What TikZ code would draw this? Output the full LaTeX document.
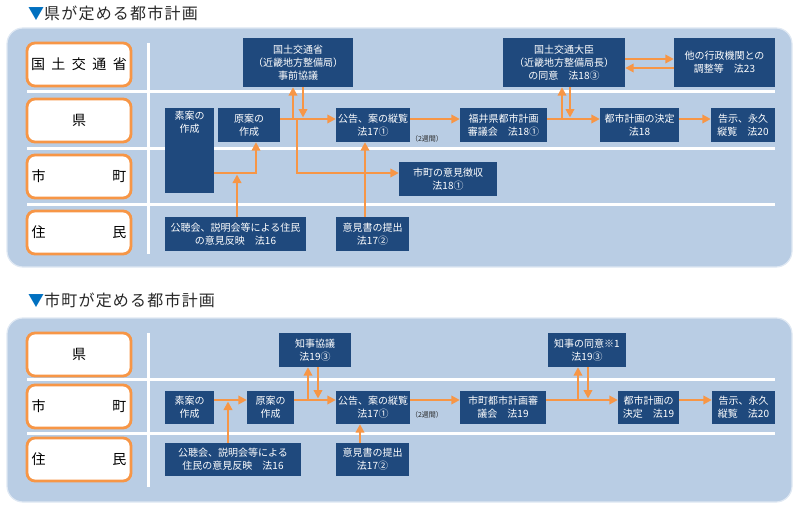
\documentclass[tikz,border=0pt]{standalone}
\usepackage{fontspec}
\setmainfont{Noto Sans CJK JP}
\usetikzlibrary{arrows.meta}
\definecolor{PanelClr}{RGB}{185,205,228}
\definecolor{BoxClr}{RGB}{31,73,125}
\definecolor{FlowClr}{RGB}{247,150,70}
\definecolor{MarkClr}{RGB}{0,112,192}
\definecolor{TitleClr}{RGB}{40,40,40}

\begin{document}
\begin{tikzpicture}[x=1pt,y=-1pt,
  panel/.style={fill=PanelClr,draw=white!55!PanelClr,line width=1.2pt,rounded corners=16pt},
  lane/.style={draw=FlowClr,fill=white,line width=2.8pt,rounded corners=8pt,
    minimum width=104pt,minimum height=43pt,inner sep=0pt,font=\fontsize{14}{16}\selectfont},
  sep/.style={white,line width=3pt},
  proc/.style={fill=BoxClr,text=white,align=center,inner sep=1pt,font=\fontsize{10}{13}\selectfont},
  flow/.style={FlowClr,line width=2.8pt,-{Triangle[length=8.5pt,width=8.5pt]}},
  title/.style={anchor=west,inner sep=0pt,text=TitleClr,font=\fontsize{16}{18}\selectfont\addfontfeature{LetterSpace=7.5}},
  weeks/.style={text=TitleClr,inner sep=0pt,font=\fontsize{7}{8}\selectfont}]
\useasboundingbox (0,0) rectangle (801,511);

% ---- 県が定める都市計画
\node[title] (ttl1) at (28,13) {\textcolor{MarkClr}{▼}県が定める都市計画};
\draw[panel] (7,28) rectangle (792,267);

\draw[sep] (27,92) -- (775,92);
\draw[sep] (27,148) -- (775,148);
\draw[sep] (27,204) -- (775,204);
\draw[sep] (148,43) -- (148,254);

\node[lane] (lnA1) at (79,64.5) {\makebox[96pt]{国\hfill 土\hfill 交\hfill 通\hfill 省}};
\node[lane] (lnB1) at (79,120.5) {県};
\node[lane] (lnC1) at (79,176.5) {\makebox[95pt]{市\hfill 町}};
\node[lane] (lnD1) at (79,232.5) {\makebox[95pt]{住\hfill 民}};

\node[proc,minimum width=110pt,minimum height=49pt] (jizen) at (298,62.5) {国土交通省\\（近畿地方整備局）\\事前協議};
\node[proc,minimum width=122pt,minimum height=49pt] (doui1) at (564,62.5) {国土交通大臣\\（近畿地方整備局長）\\の同意　法18③};
\node[proc,minimum width=101pt,minimum height=49pt] (tagyosei) at (724.5,62.5) {他の行政機関との\\調整等　法23};

\node[proc,minimum width=49pt,minimum height=85pt,
  label={[anchor=north,text=white,align=center,inner sep=3pt,font=\fontsize{10}{13}\selectfont]north:{素案の\\作成}}]
  (soan1) at (189.5,150.5) {};
\node[proc,minimum width=62pt,minimum height=34pt] (genan1) at (249,125) {原案の\\作成};
\node[proc,minimum width=74pt,minimum height=34pt] (kokoku1) at (373,125) {公告、案の縦覧\\法17①};
\node[weeks] (wk1) at (427,139) {（2週間）};
\node[proc,minimum width=87pt,minimum height=34pt] (shingi1) at (503.5,125) {福井県都市計画\\審議会　法18①};
\node[proc,minimum width=79pt,minimum height=34pt] (kettei1) at (639.5,125) {都市計画の決定\\法18};
\node[proc,minimum width=64pt,minimum height=34pt] (kokuji1) at (743,125) {告示、永久\\縦覧　法20};
\node[proc,minimum width=98pt,minimum height=34pt] (choshu) at (448,179) {市町の意見徴収\\法18①};
\node[proc,minimum width=141pt,minimum height=34pt] (kochokai1) at (235.5,234) {公聴会、説明会等による住民\\の意見反映　法16};
\node[proc,minimum width=73pt,minimum height=34pt] (ikensho1) at (372.5,234) {意見書の提出\\法17②};

\coordinate (r1) at (0,119);
\coordinate (m1) at (0,173);
\coordinate (j1) at (297,119);
\coordinate (u1) at (293,119);
\coordinate (d1) at (303,117.5);
\coordinate (g1) at (256,173);
\coordinate (k1) at (237,174.5);
\coordinate (i1) at (365,0);
\coordinate (u2) at (562,119);
\coordinate (d2) at (570,117.5);
\coordinate (h1) at (0,59);
\coordinate (h2) at (0,68);

\draw[flow] (genan1.east |- r1) -- (kokoku1.west |- r1);
\draw[flow] (j1) |- (choshu.west |- m1);
\draw[flow] (u1) -- (u1 |- jizen.south);
\draw[flow] (d1 |- jizen.south) -- (d1);
\draw[flow] (soan1.east |- g1) -| (g1 |- genan1.south);
\draw[flow] (kochokai1.north -| k1) -- (k1);
\draw[flow] (ikensho1.north -| i1) -- (kokoku1.south -| i1);
\draw[flow] (kokoku1.east |- r1) -- (shingi1.west |- r1);
\draw[flow] (shingi1.east |- r1) -- (kettei1.west |- r1);
\draw[flow] (u2) -- (u2 |- doui1.south);
\draw[flow] (d2 |- doui1.south) -- (d2);
\draw[flow] (kettei1.east |- r1) -- (kokuji1.west |- r1);
\draw[flow] (doui1.east |- h1) -- (tagyosei.west |- h1);
\draw[flow] (tagyosei.west |- h2) -- (doui1.east |- h2);

% ---- 市町が定める都市計画
\node[title] (ttl2) at (28,300) {\textcolor{MarkClr}{▼}市町が定める都市計画};
\draw[panel] (7,318) rectangle (792,502);

\draw[sep] (27,379) -- (775,379);
\draw[sep] (27,433) -- (775,433);
\draw[sep] (148,333) -- (148,487);

\node[lane] (lnB2) at (79,354.5) {県};
\node[lane] (lnC2) at (79,406.5) {\makebox[95pt]{市\hfill 町}};
\node[lane] (lnD2) at (79,459.5) {\makebox[95pt]{住\hfill 民}};

\node[proc,minimum width=72pt,minimum height=34pt] (kyogi2) at (315,350) {知事協議\\法19③};
\node[proc,minimum width=78pt,minimum height=34pt] (doui2) at (587,350) {知事の同意※1\\法19③};
\node[proc,minimum width=49pt,minimum height=33pt] (soan2) at (189.5,407.5) {素案の\\作成};
\node[proc,minimum width=47pt,minimum height=33pt] (genan2) at (270.5,407.5) {原案の\\作成};
\node[proc,minimum width=74pt,minimum height=33pt] (kokoku2) at (373,407.5) {公告、案の縦覧\\法17①};
\node[weeks] (wk2) at (427,415) {（2週間）};
\node[proc,minimum width=86pt,minimum height=33pt] (shingi2) at (503,407.5) {市町都市計画審\\議会　法19};
\node[proc,minimum width=61pt,minimum height=33pt] (kettei2) at (648.5,407.5) {都市計画の\\決定　法19};
\node[proc,minimum width=63pt,minimum height=33pt] (kokuji2) at (743.5,407.5) {告示、永久\\縦覧　法20};
\node[proc,minimum width=136pt,minimum height=33pt] (kochokai2) at (233,459.5) {公聴会、説明会等による\\住民の意見反映　法16};
\node[proc,minimum width=73pt,minimum height=33pt] (ikensho2) at (372.5,459.5) {意見書の提出\\法17②};

\coordinate (r2) at (0,400);
\coordinate (k2) at (228,401.5);
\coordinate (u3) at (308,400);
\coordinate (d3) at (318,398.5);
\coordinate (i2) at (360,0);
\coordinate (u4) at (578,400);
\coordinate (d4) at (588,398.5);

\draw[flow] (soan2.east |- r2) -- (genan2.west |- r2);
\draw[flow] (kochokai2.north -| k2) -- (k2);
\draw[flow] (genan2.east |- r2) -- (kokoku2.west |- r2);
\draw[flow] (u3) -- (u3 |- kyogi2.south);
\draw[flow] (d3 |- kyogi2.south) -- (d3);
\draw[flow] (ikensho2.north -| i2) -- (kokoku2.south -| i2);
\draw[flow] (kokoku2.east |- r2) -- (shingi2.west |- r2);
\draw[flow] (shingi2.east |- r2) -- (kettei2.west |- r2);
\draw[flow] (u4) -- (u4 |- doui2.south);
\draw[flow] (d4 |- doui2.south) -- (d4);
\draw[flow] (kettei2.east |- r2) -- (kokuji2.west |- r2);
\end{tikzpicture}
\end{document}
